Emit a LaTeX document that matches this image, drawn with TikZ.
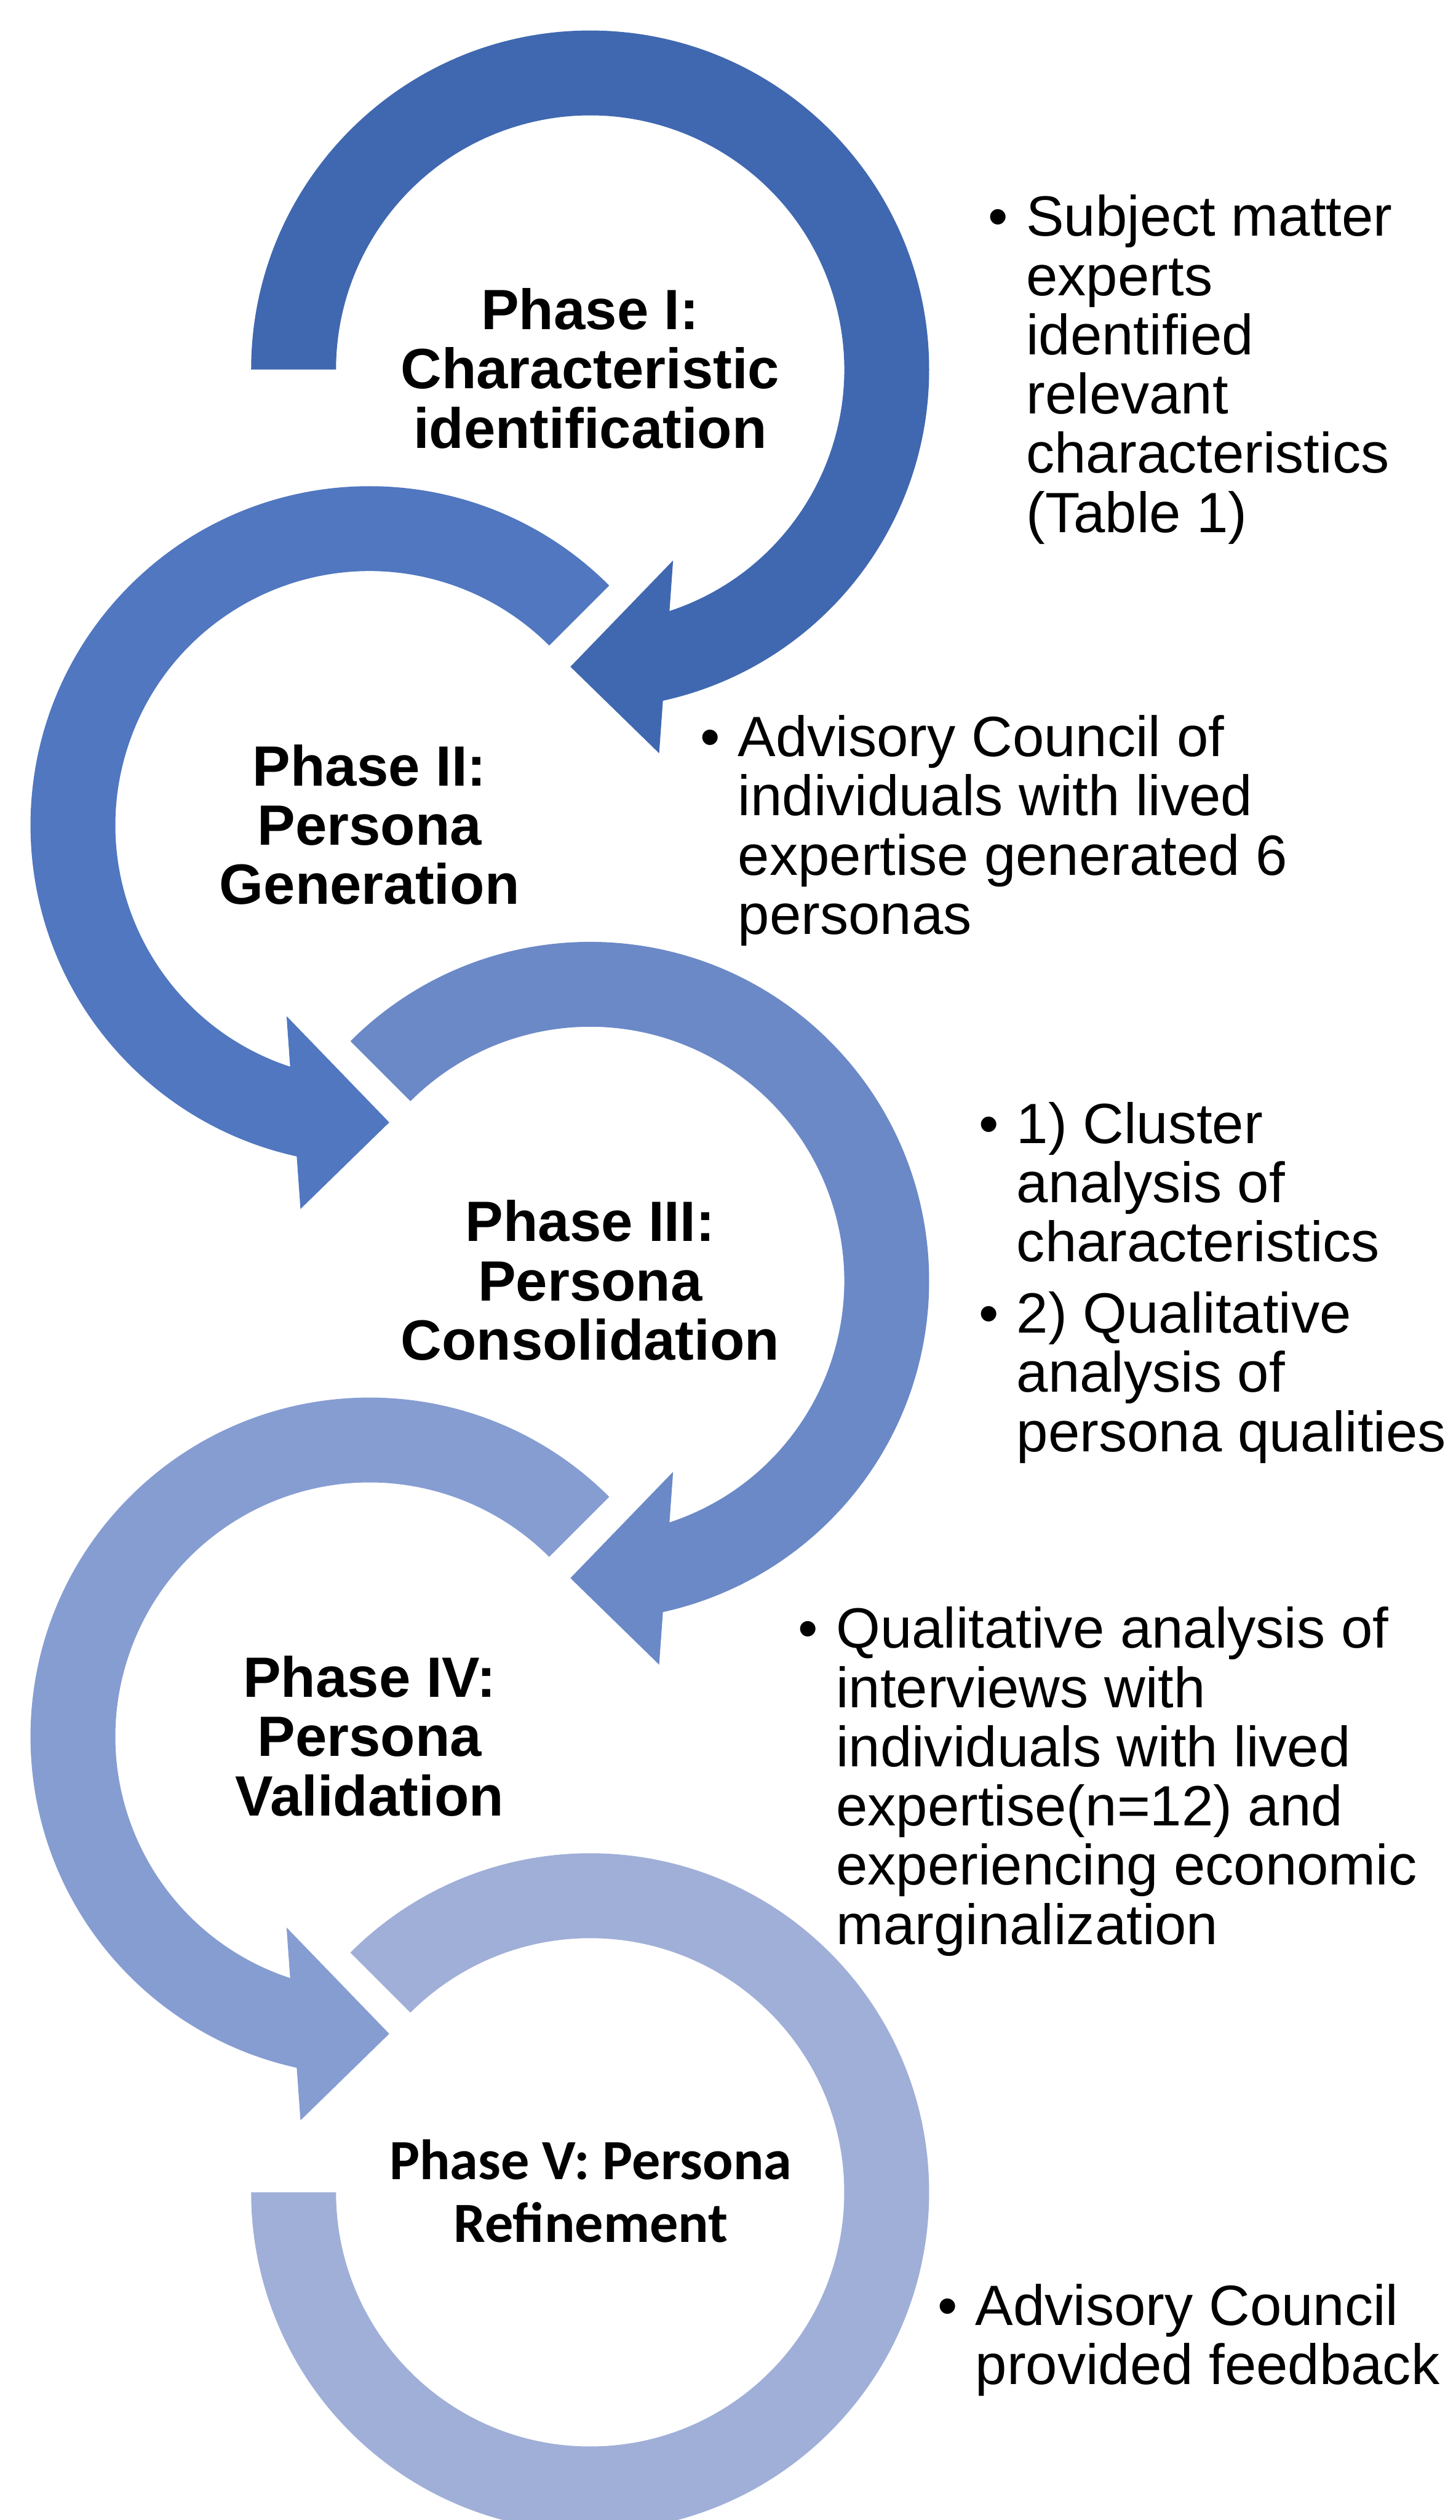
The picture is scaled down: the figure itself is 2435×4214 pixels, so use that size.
\documentclass[tikz,border=0pt]{standalone}
\usepackage{fontspec}
\setmainfont{Liberation Sans}
\newfontfamily\calibrifont{Carlito}
\usepackage{tikz}

\definecolor{phaseone}{RGB}{64,104,176}
\definecolor{phasetwo}{RGB}{80,119,192}
\definecolor{phasethree}{RGB}{107,137,199}
\definecolor{phasefour}{RGB}{134,157,210}
\definecolor{phasefive}{RGB}{160,175,216}

\tikzstyle{phase} = [font=\fontsize{95}{99}\selectfont\bfseries, inner sep=0pt, anchor=base]
\tikzstyle{lastphase} = [font=\fontsize{95}{104}\selectfont\calibrifont\bfseries, inner sep=0pt, anchor=base]
\tikzstyle{note} = [font=\fontsize{95}{99}\selectfont, inner sep=0pt, anchor=base west]

% ring with arrow head at the lower right, drawn round the current origin
% #1 colour, #2 angle where the ring starts
\newcommand{\phasearrow}[2]{%
  \fill [#1] (#2:567) arc [start angle=#2, end angle=-77.6, radius=567]
    -- (-79.8:652) -- (-93.8:498) -- (-66.5:348) -- (-71.8:425)
    arc [start angle=-71.8, end angle=#2, radius=425] -- cycle;}

\begin{document}
\begin{tikzpicture}[x=1pt, y=1pt]
    \useasboundingbox (0,0) rectangle (2435,-4214);
    \clip (0,0) rectangle (2435,-4214);
    % Draw rings
    \begin{scope}[shift={(987,-618)}]
        \phasearrow{phaseone}{180}
    \end{scope}
    \begin{scope}[shift={(618,-1380)}, xscale=-1]
        \phasearrow{phasetwo}{135}
    \end{scope}
    \begin{scope}[shift={(987,-2142)}]
        \phasearrow{phasethree}{135}
    \end{scope}
    \begin{scope}[shift={(618,-2904)}, xscale=-1]
        \phasearrow{phasefour}{135}
    \end{scope}
    \begin{scope}[shift={(987,-3666)}]
        \fill [phasefive] (135:567) arc [start angle=135, end angle=-180, radius=567]
            -- (180:425) arc [start angle=-180, end angle=135, radius=425] -- cycle;
    \end{scope}
    % Place nodes
    \node [phase] (one) at (987,-551)
        {\begin{tabular}[t]{@{}c@{}}Phase I:\\Characteristic\\identification\end{tabular}};
    \node [phase] (two) at (618,-1314)
        {\begin{tabular}[t]{@{}c@{}}Phase II:\\Persona\\Generation\end{tabular}};
    \node [phase] (three) at (987,-2076)
        {\begin{tabular}[t]{@{}c@{}}Phase III:\\Persona\\Consolidation\end{tabular}};
    \node [phase] (four) at (618,-2838)
        {\begin{tabular}[t]{@{}c@{}}Phase IV:\\Persona\\Validation\end{tabular}};
    \node [lastphase] (five) at (988,-3645)
        {\begin{tabular}[t]{@{}c@{}}Phase V: Persona\\Refinement\end{tabular}};
    % Notes beside each phase
    \node [note] (oneNote) at (1653,-395)
        {\begin{tabular}[t]{@{}l@{\hspace{30pt}}l@{}}\textbullet & Subject matter\\ & experts\\ & identified\\ & relevant\\ & characteristics\\ & (Table 1)\end{tabular}};
    \node [note] (twoNote) at (1171,-1265)
        {\begin{tabular}[t]{@{}l@{\hspace{30pt}}l@{}}\textbullet & Advisory Council of\\ & individuals with lived\\ & expertise generated 6\\ & personas\end{tabular}};
    \node [note] (threeNote) at (1637,-1912)
        {\begin{tabular}[t]{@{}l@{\hspace{30pt}}l@{}}\textbullet & 1) Cluster\\ & analysis of\\ & characteristics\\[20pt] \textbullet & 2) Qualitative\\ & analysis of\\ & persona qualities\end{tabular}};
    \node [note] (fourNote) at (1335,-2756)
        {\begin{tabular}[t]{@{}l@{\hspace{30pt}}l@{}}\textbullet & Qualitative analysis of\\ & interviews with\\ & individuals with lived\\ & expertise(n=12) and\\ & experiencing economic\\ & marginalization\end{tabular}};
    \node [note] (fiveNote) at (1568,-3888)
        {\begin{tabular}[t]{@{}l@{\hspace{30pt}}l@{}}\textbullet & Advisory Council\\ & provided feedback\end{tabular}};
\end{tikzpicture}
\end{document}
